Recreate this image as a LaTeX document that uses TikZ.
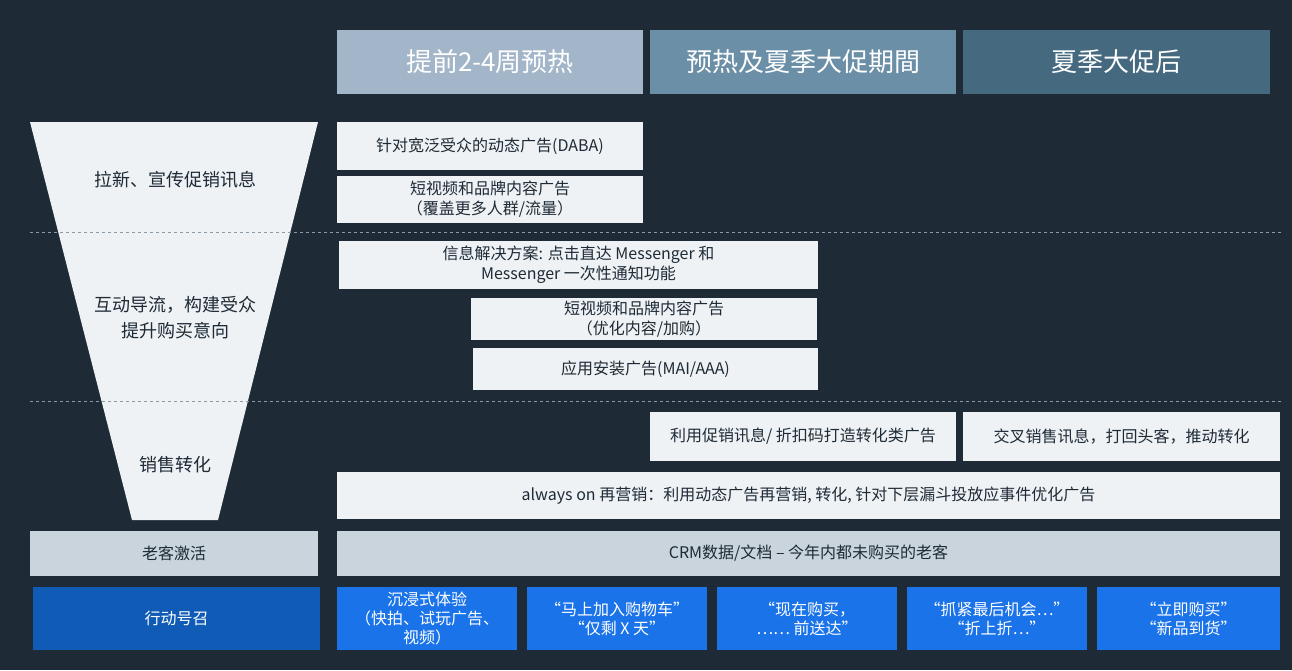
\documentclass[tikz,border=0pt]{standalone}
\usepackage{fontspec}
\setmainfont{Noto Sans CJK SC}
\definecolor{bg}{HTML}{1E2A35}
\definecolor{hA}{HTML}{A3B6C9}
\definecolor{hB}{HTML}{6B8FA7}
\definecolor{hC}{HTML}{456A80}
\definecolor{lt}{HTML}{EEF2F5}
\definecolor{gr}{HTML}{C9D4DC}
\definecolor{bl}{HTML}{1A73E8}
\definecolor{dbl}{HTML}{0F5BB5}
\definecolor{dl}{HTML}{8C9AA6}
\tikzset{
 box/.style={fill=lt,draw=none},
 txt/.style={text=bg,font=\fontsize{16}{20}\selectfont,align=center},
 wtxt/.style={text=white,font=\fontsize{16}{19}\selectfont,align=center},
 htxt/.style={text=white,font=\fontsize{26}{30}\selectfont},
}
\begin{document}
\begin{tikzpicture}[x=1pt,y=-1pt]
\fill[bg] (0,0) rectangle (1292,670);
\useasboundingbox (0,0) rectangle (1292,670);
% headers
\fill[hA] (337,30) rectangle (643,94); \node[htxt] (h1) at (490,62) {提前2-4周预热};
\fill[hB] (650,30) rectangle (956,94); \node[htxt] (h2) at (803,62) {预热及夏季大促期間};
\fill[hC] (963,30) rectangle (1270,94); \node[htxt] (h3) at (1116,62) {夏季大促后};
% funnel
\fill[lt] (30,122) -- (318,122) -- (218,520) -- (132,520) -- cycle;
\node[txt,font=\fontsize{18}{26}\selectfont] (f1) at (175,180) {拉新、宣传促销讯息};
\node[txt,font=\fontsize{18}{26}\selectfont] (f2) at (175,318) {互动导流，构建受众\\提升购买意向};
\node[txt,font=\fontsize{18}{26}\selectfont] (f3) at (175,465) {销售转化};
% dashed
\draw[dl,dashed] (30,232) -- (1282,232);
\draw[dl,dashed] (30,401) -- (1282,401);
% boxes
\fill[box] (337,122) rectangle (643,170); \node[txt] (b1) at (490,146) {针对宽泛受众的动态广告(DABA)};
\fill[box] (337,176) rectangle (643,223); \node[txt] (b2) at (490,199.5) {短视频和品牌内容广告\\（覆盖更多人群/流量）};
\fill[box] (339,241) rectangle (818,289); \node[txt] (b3) at (578.5,265) {信息解决方案: 点击直达 Messenger 和\\Messenger 一次性通知功能};
\fill[box] (471,298) rectangle (817,340); \node[txt] (b4) at (644,319) {短视频和品牌内容广告\\（优化内容/加购）};
\fill[box] (473,348) rectangle (818,390); \node[txt] (b5) at (645.5,369) {应用安装广告(MAI/AAA)};
\fill[box] (650,412) rectangle (956,461); \node[txt] (b6) at (803,436.5) {利用促销讯息/ 折扣码打造转化类广告};
\fill[box] (963,412) rectangle (1280,461); \node[txt] (b7) at (1121.5,436.5) {交叉销售讯息，打回头客，推动转化};
\fill[box] (337,472) rectangle (1280,519); \node[txt] (b8) at (808.5,495.5) {always on 再营销：利用动态广告再营销, 转化, 针对下层漏斗投放应事件优化广告};
% old customers
\fill[gr] (30,531) rectangle (318,576); \node[txt] (o1) at (174,553.5) {老客激活};
\fill[gr] (337,531) rectangle (1280,576); \node[txt] (o2) at (808.5,553.5) {CRM数据/文档 – 今年内都未购买的老客};
% CTA
\fill[dbl] (33,587) rectangle (320,650); \node[wtxt] (c0) at (176.5,618.5) {行动号召};
\fill[bl] (337,587) rectangle (517,650); \node[wtxt] (c1) at (427,618.5) {沉浸式体验\\（快拍、试玩广告、\\视频）};
\fill[bl] (527,587) rectangle (707,650); \node[wtxt] (c2) at (617,618.5) {“马上加入购物车”\\“仅剩 X 天”};
\fill[bl] (717,587) rectangle (897,650); \node[wtxt] (c3) at (807,618.5) {“现在购买，\\…… 前送达”};
\fill[bl] (907,587) rectangle (1087,650); \node[wtxt] (c4) at (997,618.5) {“抓紧最后机会…”\\“折上折…”};
\fill[bl] (1097,587) rectangle (1280,650); \node[wtxt] (c5) at (1188.5,618.5) {“立即购买”\\“新品到货”};
\end{tikzpicture}
\end{document}
